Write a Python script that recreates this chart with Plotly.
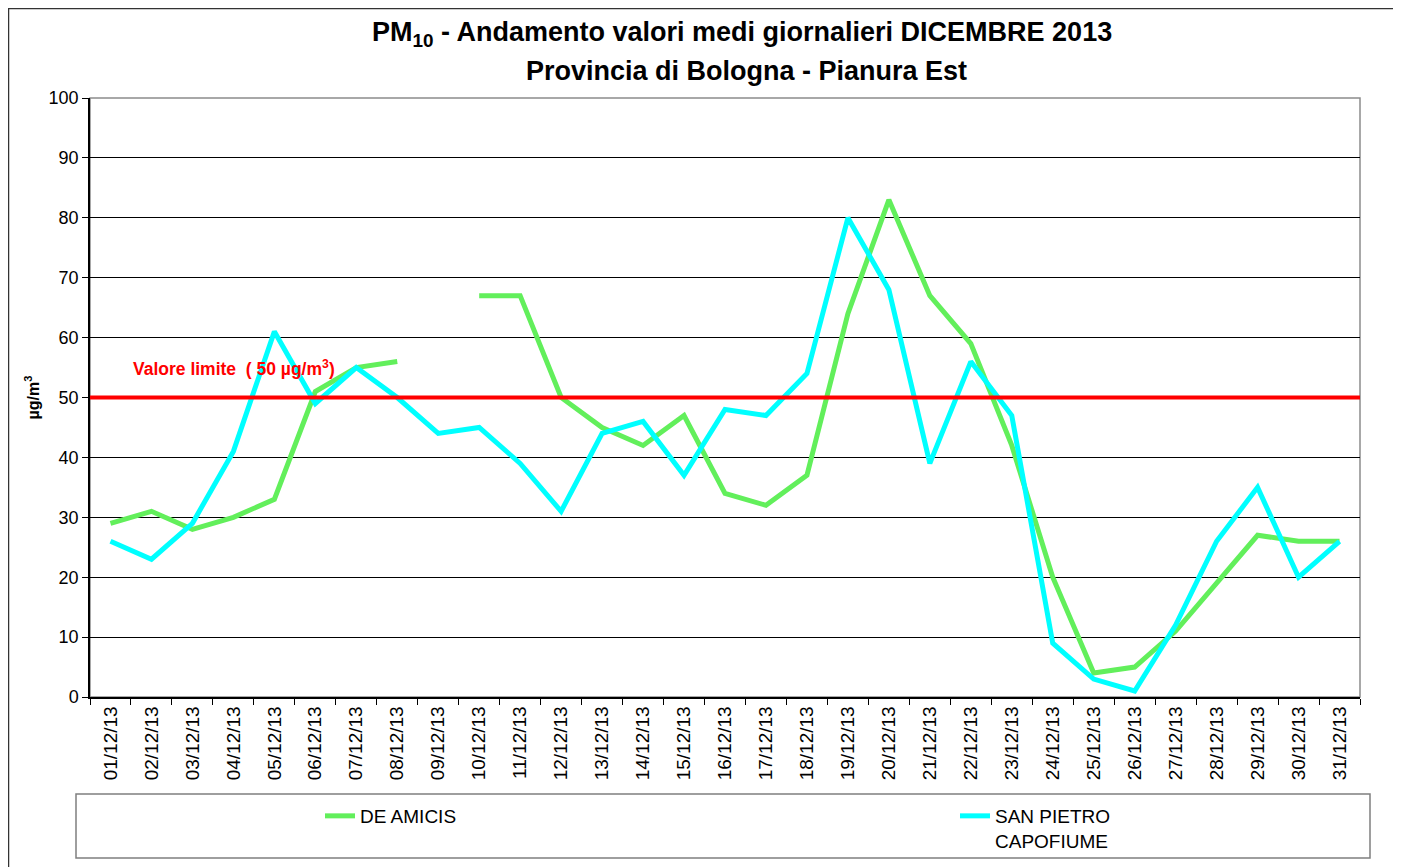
import plotly.graph_objects as go

dates = [f"{d:02d}/12/13" for d in range(1, 32)]
de_amicis = [29, 31, 28, 30, 33, 51, 55, 56, None, 67, 67, 50, 45, 42, 47, 34, 32, 37, 64, 83,
             67, 59, 42, 20, 4, 5, 11, 19, 27, 26, 26]
san_pietro = [26, 23, 29, 41, 61, 49, 55, 50, 44, 45, 39, 31, 44, 46, 37, 48, 47, 54, 80, 68,
              39, 56, 47, 9, 3, 1, 12, 26, 35, 20, 26]
limit_value = 50
y_ticks = list(range(0, 101, 10))

# page body adds an 8px offset; work in reference pixel coordinates
OFF = 8
W, H = 1401 - OFF, 867 - OFF
PL, PR, PT, PB = 90, 1360, 98, 697  # plot area in reference pixels
L, T = PL - OFF, PT - OFF
R, B = W - (PR - OFF), H - (PB - OFF)
pw, ph = PR - PL, PB - PT


def px(x):
    return (x - PL) / pw


def py(y):
    return (PB - y) / ph


FONT = "Liberation Sans, Arial, sans-serif"

fig = go.Figure()
fig.add_trace(go.Scatter(x=dates, y=de_amicis, mode="lines", name="DE AMICIS",
                         line=dict(color="#62EF5B", width=5), connectgaps=False))
fig.add_trace(go.Scatter(x=dates, y=san_pietro, mode="lines", name="SAN PIETRO<br>CAPOFIUME",
                         line=dict(color="#00FFFF", width=5)))

shapes = [
    dict(type="line", xref="paper", yref="y", x0=0, x1=1, y0=limit_value, y1=limit_value,
         line=dict(color="#FF0000", width=4), layer="above"),
    dict(type="rect", xref="paper", yref="paper", x0=0, x1=1, y0=0, y1=1,
         line=dict(color="#8C8C8C", width=1.5), layer="below"),
    dict(type="rect", xref="paper", yref="paper", x0=px(76), x1=px(1370), y0=py(858), y1=py(794),
         line=dict(color="#7F7F7F", width=1.5)),
    dict(type="rect", xref="paper", yref="paper", x0=px(8.5), x1=px(1430), y0=py(900), y1=py(8.5),
         line=dict(color="#333333", width=1.5)),
]

fig.update_layout(
    width=W, height=H,
    margin=dict(l=L, r=R, t=T, b=B, autoexpand=False),
    paper_bgcolor="white", plot_bgcolor="white",
    font=dict(family=FONT, color="black"),
    xaxis=dict(
        type="category", tickangle=-90, tickfont=dict(size=19),
        ticks="outside", tickson="boundaries", ticklen=6, tickcolor="black",
        showline=True, linecolor="black", linewidth=1.5,
        showgrid=False, range=[-0.5, 30.5],
    ),
    yaxis=dict(
        range=[0, 100], tickvals=y_ticks, tickfont=dict(size=18),
        ticks="outside", ticklen=6, tickcolor="black",
        showline=True, linecolor="black", linewidth=1.5,
        showgrid=True, gridcolor="black", gridwidth=1,
        title=dict(text="<b>µg/m<sup>3</sup></b>", font=dict(size=16), standoff=5),
        zeroline=False,
    ),
    showlegend=True,
    legend=dict(
        orientation="h", xref="paper", x=px(320), xanchor="left",
        yref="paper", y=py(797), yanchor="top",
        font=dict(size=19, family=FONT), entrywidth=590, entrywidthmode="pixels",
        valign="top", bgcolor="rgba(0,0,0,0)", borderwidth=0, tracegroupgap=0,
    ),
    shapes=shapes,
    annotations=[
        dict(text="<b>PM<sub>10</sub> - Andamento valori medi giornalieri DICEMBRE 2013</b>",
             xref="paper", yref="paper", x=px(742), y=py(34), xanchor="center", yanchor="middle",
             showarrow=False, font=dict(size=27, family=FONT, color="black")),
        dict(text="<b>Provincia di Bologna - Pianura Est</b>",
             xref="paper", yref="paper", x=px(746), y=py(71), xanchor="center", yanchor="middle",
             showarrow=False, font=dict(size=27, family=FONT, color="black")),
        dict(text="<b>Valore limite  ( 50 µg/m<sup>3</sup>)</b>", xref="paper", yref="paper",
             x=px(131), y=py(368), xanchor="left", yanchor="middle", showarrow=False,
             font=dict(size=17.5, color="#FF0000", family=FONT)),
    ],
)

fig.write_html("out.html")
